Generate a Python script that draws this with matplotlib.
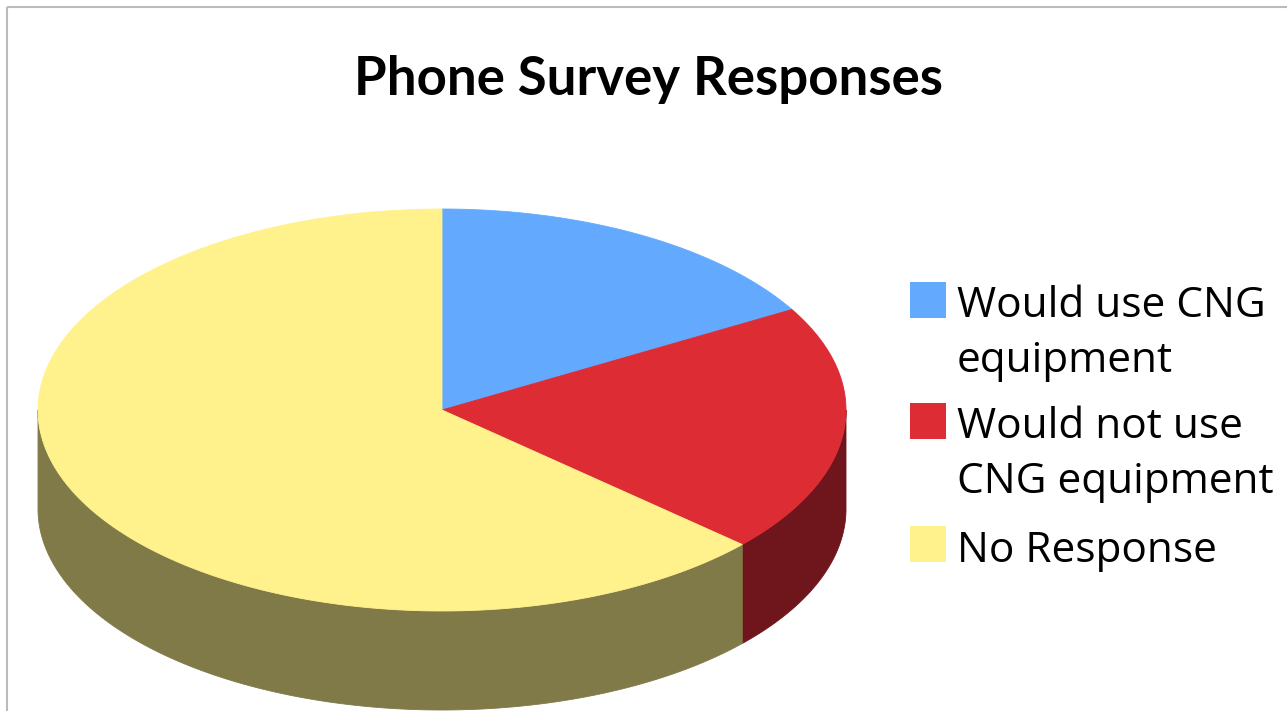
import numpy as np
import matplotlib
matplotlib.use("Agg")
import matplotlib.pyplot as plt
from matplotlib.patches import Polygon, Rectangle

# Survey data
categories = ["Would use CNG\nequipment", "Would not use\nCNG equipment", "No Response"]
responses = [5, 6, 19]
top_colors = ["#63AAFF", "#DD2C33", "#FFF28C"]
side_colors = ["#31558A", "#6E161B", "#7F7A47"]
title = "Phone Survey Responses"

W, H = 1287, 711
fig = plt.figure(figsize=(W / 100, H / 100), dpi=100)
ax = fig.add_axes([0, 0, 1, 1])
ax.set_xlim(0, W)
ax.set_ylim(H, 0)
ax.axis("off")

# chart area frame
ax.add_patch(Rectangle((7, 7), W + 20, H + 20, fill=False,
                       edgecolor="#BBBBBB", linewidth=1.5))

# 3-D pie geometry (ellipse seen from above, with a thickness)
cx, cy, rx, ry, depth = 442, 410, 404, 201, 99


def rim(t0, t1, y0=0.0, n=240):
    t = np.radians(np.linspace(t0, t1, n))
    return np.column_stack([cx + rx * np.cos(t), cy - ry * np.sin(t) + y0])


fractions = np.asarray(responses, dtype=float) / sum(responses)
bounds = 90 - 360 * np.concatenate([[0.0], np.cumsum(fractions)])

# visible outer walls (front half of the disc)
for i in range(len(responses)):
    hi, lo = bounds[i], bounds[i + 1]
    for k in (-360, 0, 360):
        a, b = max(lo, -180 + k), min(hi, k)
        if b > a:
            top = rim(b, a)
            bottom = rim(a, b, depth)
            ax.add_patch(Polygon(np.vstack([top, bottom]), closed=True,
                                 facecolor=side_colors[i], edgecolor=side_colors[i],
                                 linewidth=0.6))

# top faces
for i in range(len(responses)):
    pts = np.vstack([[cx, cy], rim(bounds[i], bounds[i + 1])])
    ax.add_patch(Polygon(pts, closed=True, facecolor=top_colors[i],
                         edgecolor=top_colors[i], linewidth=0.6))

# title
ax.text(649, 95, title, ha="center", va="baseline", fontsize=38,
        fontweight="bold", family="Lato", color="black")

# legend
sq = 36
square_tops = [282, 403, 526]
first_baselines = [317, 438, 562]
line_gap = 55
for i, label in enumerate(categories):
    ax.add_patch(Rectangle((910, square_tops[i]), sq, sq, facecolor=top_colors[i],
                           edgecolor="none"))
    for j, line in enumerate(label.split("\n")):
        ax.text(957, first_baselines[i] + j * line_gap, line, ha="left",
                va="baseline", fontsize=30.5, family="Open Sans", color="black")

fig.savefig("out.png", dpi=100)
